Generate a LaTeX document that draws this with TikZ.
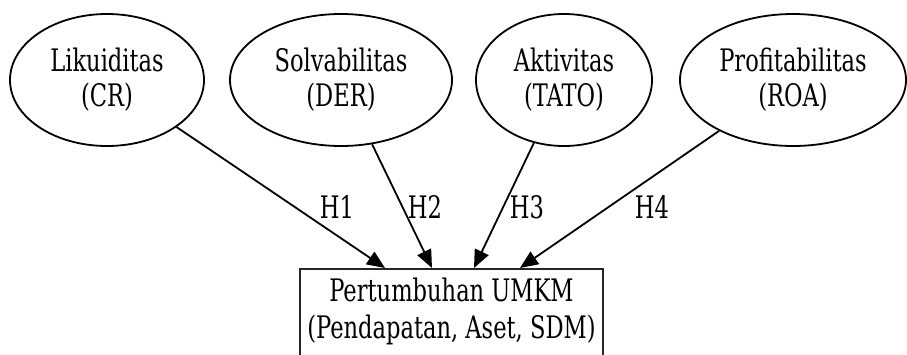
\documentclass[tikz,border=0pt]{standalone}
\usepackage{fontspec}
\setmainfont{DejaVu Serif Condensed}[FakeStretch=0.81]
\usetikzlibrary{shapes.geometric,arrows.meta}
\begin{document}
\begin{tikzpicture}[x=1pt,y=-1pt,
  txt/.style={font=\fontsize{31}{35}\selectfont},
  var/.style={draw,ellipse,line width=1.8pt,inner sep=0pt,align=center,txt},
  outbox/.style={draw=black!85,rectangle,line width=2.4pt,inner sep=0pt},
  conn/.style={line width=1.8pt,-{Triangle[length=18pt,width=15pt]}},
  hlab/.style={txt,inner sep=0pt}]
\useasboundingbox (0,0) rectangle (907,354);
\clip (0,0) rectangle (907,354);
\node[var,minimum width=194pt,minimum height=132pt] (cr) at (107,80) {Likuiditas\\(CR)};
\node[var,minimum width=222pt,minimum height=132pt] (der) at (341,80) {Solvabilitas\\(DER)};
\node[var,minimum width=176pt,minimum height=132pt] (tato) at (564,80) {Aktivitas\\(TATO)};
\node[var,minimum width=226pt,minimum height=132pt] (roa) at (793,80) {Profitabilitas\\(ROA)};
\node[outbox,minimum width=303pt,minimum height=130pt,anchor=north] (umkm) at (451.5,268) {};
\node[align=center,font=\fontsize{31}{37}\selectfont,inner sep=0pt] (umkmtxt) at (451.5,311) {Pertumbuhan UMKM\\(Pendapatan, Aset, SDM)};
\coordinate (t1) at (385,268);
\coordinate (t2) at (432,268);
\coordinate (t3) at (474,268);
\coordinate (t4) at (520,268);
\draw[conn] (cr) -- (t1);
\draw[conn] (der) -- (t2);
\draw[conn] (tato) -- (t3);
\draw[conn] (roa) -- (t4);
\node[hlab] (h1) at (337,207) {H1};
\node[hlab] (h2) at (425,207) {H2};
\node[hlab] (h3) at (527,207) {H3};
\node[hlab] (h4) at (652,207) {H4};
\end{tikzpicture}
\end{document}
